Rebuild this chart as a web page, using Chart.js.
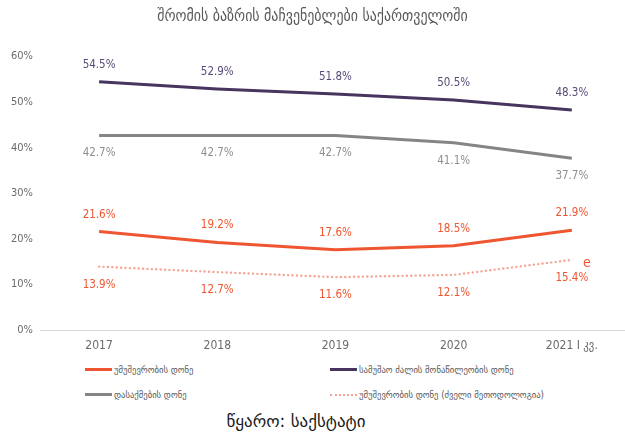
<!DOCTYPE html>
<html>
<head>
<meta charset="utf-8">
<script src="https://cdn.jsdelivr.net/npm/chart.js@4/dist/chart.umd.min.js"></script>
<style>
    html, body { margin: 0; padding: 0; background: #fff; }
    #wrap { position: relative; width: 625px; height: 432px; overflow: hidden; }
    #chartBox { position: absolute; left: 0; top: 0; width: 625px; height: 355px; }
    #legend { position: absolute; left: 0; top: 361px; width: 625px; height: 50px; }
    .item {
        position: absolute; display: flex; align-items: center;
        font: 9.6px "DejaVu Sans Condensed", "DejaVu Sans", sans-serif; color: #595959;
    }
    .swatch { display: inline-block; width: 27px; margin-right: 2px; }
    #source {
        position: absolute; left: 0; top: 411px; width: 592px; text-align: center;
        font: 17px "DejaVu Sans", sans-serif; color: #1a1a1a;
    }
</style>
</head>
<body>
<div id="wrap">
    <div id="chartBox"><canvas id="chart"></canvas></div>
    <div id="legend"></div>
    <div id="source">წყარო: საქსტატი</div>
</div>
<script>
/** ── Données ─────────────────────────────────────────────────────── */
const TITLE = 'შრომის ბაზრის მაჩვენებლები საქართველოში';
const YEARS = ['2017', '2018', '2019', '2020', '2021 I კვ.'];
const Y_TICKS = [0, 10, 20, 30, 40, 50, 60];

const UNEMPLOYMENT = [21.6, 19.2, 17.6, 18.5, 21.9];
const PARTICIPATION = [54.5, 52.9, 51.8, 50.5, 48.3];
const EMPLOYMENT = [42.7, 42.7, 42.7, 41.1, 37.7];
const UNEMPLOYMENT_OLD = [13.9, 12.7, 11.6, 12.1, 15.4];

const NAMES = {
    unemployment: 'უმუშევრობის დონე',
    participation: 'სამუშაო ძალის მონაწილეობის დონე',
    employment: 'დასაქმების დონე',
    unemploymentOld: 'უმუშევრობის დონე (ძველი მეთოდოლოგია)',
};
const OLD_END_MARK = 'e';

/** ── Styles ──────────────────────────────────────────────────────── */
const COLORS = {
    orange: '#ef5530',
    purple: '#47345f',
    purpleText: '#5a4a78',
    gray: '#858585',
    grayText: '#8f8f8f',
    salmon: '#f5a593',
    axis: '#d9d9d9',
    tick: '#6b6b6b',
};
const NUM_FONT = '"DejaVu Sans Condensed", "DejaVu Sans", sans-serif';
const GEO_FONT = '"DejaVu Sans Condensed", "DejaVu Sans", sans-serif';

const toPoints = values => values.map((y, x) => ({ x, y }));

const datasets = [
    {
        key: 'unemployment', label: NAMES.unemployment, data: toPoints(UNEMPLOYMENT),
        borderColor: COLORS.orange, borderWidth: 3, textColor: COLORS.orange, labelOffset: -17,
    },
    {
        key: 'participation', label: NAMES.participation, data: toPoints(PARTICIPATION),
        borderColor: COLORS.purple, borderWidth: 3, textColor: COLORS.purpleText, labelOffset: -17,
    },
    {
        key: 'employment', label: NAMES.employment, data: toPoints(EMPLOYMENT),
        borderColor: COLORS.gray, borderWidth: 3, textColor: COLORS.grayText, labelOffset: 18,
    },
    {
        key: 'unemploymentOld', label: NAMES.unemploymentOld, data: toPoints(UNEMPLOYMENT_OLD),
        borderColor: COLORS.salmon, borderWidth: 2.4, borderDash: [0.1, 4.3], borderCapStyle: 'round',
        textColor: COLORS.orange, labelOffset: 18, endMark: OLD_END_MARK,
    },
].map(ds => ({ ...ds, pointRadius: 0, pointHoverRadius: 0, tension: 0, fill: false }));

/** ── Étiquettes de valeurs ───────────────────────────────────────── */
const valueLabels = {
    id: 'valueLabels',
    afterDatasetsDraw(chart) {
        const { ctx } = chart;
        ctx.save();
        ctx.textAlign = 'center';
        ctx.textBaseline = 'middle';
        chart.data.datasets.forEach((ds, i) => {
            const meta = chart.getDatasetMeta(i);
            ctx.fillStyle = ds.textColor;
            ctx.font = `11.5px ${NUM_FONT}`;
            meta.data.forEach((pt, j) => {
                ctx.fillText(ds.data[j].y.toFixed(1) + '%', pt.x, pt.y + ds.labelOffset);
            });
            if (ds.endMark) {
                const last = meta.data[meta.data.length - 1];
                ctx.font = `14px ${NUM_FONT}`;
                ctx.fillText(ds.endMark, last.x + 15, last.y + 4);
            }
        });
        ctx.restore();
    },
};

/** ── Graphique ───────────────────────────────────────────────────── */
new Chart(document.getElementById('chart'), {
    type: 'line',
    data: { datasets },
    plugins: [valueLabels],
    options: {
        responsive: true,
        maintainAspectRatio: false,
        animation: false,
        layout: { padding: { left: 0, right: 0, top: 0, bottom: 0 } },
        scales: {
            x: {
                type: 'linear',
                min: -0.5,
                max: 4.45,
                afterBuildTicks: scale => { scale.ticks = YEARS.map((_, i) => ({ value: i })); },
                afterFit: scale => { scale.height = 25; },
                grid: { display: false, drawTicks: false },
                border: { display: true, color: COLORS.axis, width: 1 },
                ticks: {
                    padding: 9,
                    color: COLORS.tick,
                    font: { family: NUM_FONT, size: 12 },
                    callback: v => YEARS[v] ?? '',
                },
            },
            y: {
                min: 0,
                max: 60,
                afterBuildTicks: scale => { scale.ticks = Y_TICKS.map(value => ({ value })); },
                afterFit: scale => { scale.width = 40; },
                grid: { display: false, drawTicks: false },
                border: { display: false },
                ticks: {
                    padding: 7,
                    color: COLORS.tick,
                    font: { family: NUM_FONT, size: 11 },
                    callback: v => v + '%',
                },
            },
        },
        plugins: {
            legend: { display: false },
            tooltip: { enabled: false },
            title: {
                display: true,
                text: TITLE,
                color: '#595959',
                font: { family: GEO_FONT, size: 15.5, weight: 'normal' },
                padding: { top: 8, bottom: 30 },
            },
        },
    },
});

/** ── Légende HTML (deux colonnes) ────────────────────────────────── */
const LEGEND_SLOTS = { unemployment: [85, 3], participation: [330, 3], employment: [85, 28], unemploymentOld: [330, 28] };
const legend = document.getElementById('legend');
datasets.forEach(ds => {
    const [left, top] = LEGEND_SLOTS[ds.key];
    const item = document.createElement('div');
    item.className = 'item';
    item.style.left = left + 'px';
    item.style.top = top + 'px';
    const swatch = document.createElement('span');
    swatch.className = 'swatch';
    swatch.style.borderTop = ds.borderDash
        ? `2px dotted ${ds.borderColor}`
        : `3px solid ${ds.borderColor}`;
    const text = document.createElement('span');
    text.textContent = ds.label;
    item.append(swatch, text);
    legend.appendChild(item);
});
</script>
</body>
</html>
